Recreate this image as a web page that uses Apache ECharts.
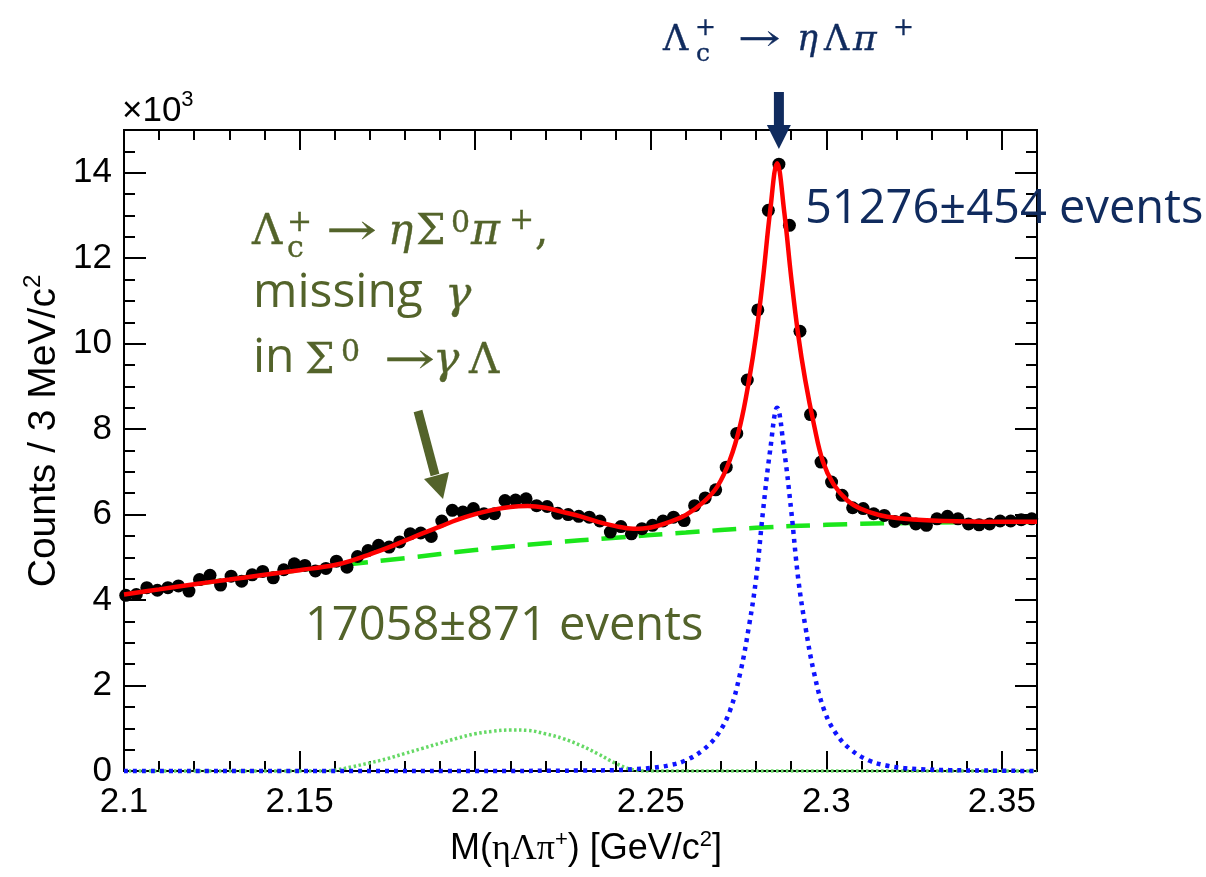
<!DOCTYPE html>
<html><head><meta charset="utf-8">
<script src="https://cdn.jsdelivr.net/npm/echarts@6/dist/echarts.min.js"></script>
<style>html,body{margin:0;padding:0;background:#fff}#c{width:1206px;height:877px}</style>
</head><body><div id="c"></div>
<script>
// ---- data (values in units of 10^3 counts) ----
const binCenters = [2.1005,2.1035,2.1065,2.1095,2.1125,2.1155,2.1185,2.1215,2.1245,2.1275,
  2.1305,2.1335,2.1365,2.1395,2.1425,2.1455,2.1485,2.1515,2.1545,2.1575,
  2.1605,2.1635,2.1665,2.1695,2.1725,2.1755,2.1785,2.1815,2.1845,2.1875,
  2.1905,2.1935,2.1965,2.1995,2.2025,2.2055,2.2085,2.2115,2.2145,2.2175,
  2.2205,2.2235,2.2265,2.2295,2.2325,2.2355,2.2385,2.2415,2.2445,2.2475,
  2.2505,2.2535,2.2565,2.2595,2.2625,2.2655,2.2685,2.2715,2.2745,2.2775,
  2.2805,2.2835,2.2865,2.2895,2.2925,2.2955,2.2985,2.3015,2.3045,2.3075,
  2.3105,2.3135,2.3165,2.3195,2.3225,2.3255,2.3285,2.3315,2.3345,2.3375,
  2.3405,2.3435,2.3465,2.3495,2.3525,2.3555,2.3585];
const counts = [4.11,4.13,4.29,4.23,4.29,4.33,4.21,4.48,4.58,4.35,
  4.56,4.44,4.59,4.67,4.52,4.71,4.85,4.81,4.68,4.74,
  4.91,4.77,5.02,5.16,5.28,5.24,5.36,5.55,5.57,5.49,
  5.85,6.10,6.06,6.14,6.02,6.02,6.33,6.34,6.37,6.21,
  6.19,6.03,6.00,5.96,5.94,5.85,5.59,5.72,5.55,5.67,
  5.75,5.85,5.94,5.86,6.21,6.39,6.58,7.11,7.90,9.15,
  10.79,13.12,14.20,12.77,10.29,8.34,7.23,6.76,6.45,6.16,
  6.14,6.02,5.98,5.84,5.90,5.78,5.75,5.90,5.96,5.90,
  5.78,5.76,5.78,5.85,5.85,5.88,5.90];
const fitTotalX = [2.100,2.110,2.120,2.130,2.140,2.150,2.160,2.165,2.170,2.175,2.180,2.185,2.190,2.195,2.200,2.205,2.210,2.215,2.220,2.225,2.230,2.235,2.240,2.245,2.250,2.255,2.260,2.265,2.269,2.2725,2.2755,2.278,2.280,2.282,2.284,2.286,2.288,2.290,2.292,2.294,2.2965,2.299,2.302,2.306,2.310,2.315,2.320,2.330,2.340,2.350,2.360];
const fitTotalY = [4.13,4.25,4.37,4.48,4.59,4.70,4.82,4.93,5.07,5.22,5.39,5.56,5.72,5.88,6.01,6.11,6.18,6.20,6.16,6.06,5.96,5.83,5.73,5.67,5.70,5.82,5.99,6.29,6.66,7.27,8.10,9.15,10.2,11.55,13.1,14.22,13.1,11.55,10.2,9.15,8.10,7.25,6.72,6.33,6.13,5.99,5.92,5.86,5.84,5.83,5.83];
const bkgX = [2.10,2.12,2.14,2.16,2.18,2.20,2.22,2.24,2.26,2.28,2.30,2.32,2.34,2.36];
const bkgY = [4.13,4.37,4.59,4.80,4.98,5.17,5.33,5.46,5.58,5.69,5.76,5.80,5.82,5.83];
const sigma0X = [2.100,2.150,2.155,2.160,2.165,2.170,2.175,2.180,2.185,2.190,2.195,2.200,2.205,2.210,2.215,2.220,2.225,2.230,2.235,2.240,2.245,2.250,2.300,2.360];
const sigma0Y = [0,0,0,0.02,0.10,0.19,0.29,0.41,0.53,0.65,0.77,0.87,0.93,0.96,0.95,0.87,0.76,0.60,0.40,0.18,0.03,0,0,0];
const signalX = [2.100,2.150,2.200,2.230,2.240,2.245,2.250,2.255,2.260,2.265,2.269,2.2725,2.2755,2.278,2.280,2.282,2.284,2.286,2.288,2.290,2.292,2.294,2.2965,2.2995,2.303,2.307,2.312,2.317,2.322,2.327,2.335,2.345,2.360];
const signalY = [0,0,0,0.01,0.02,0.04,0.07,0.13,0.25,0.50,0.85,1.4,2.3,3.4,4.5,6.1,7.5,8.5,7.5,6.1,4.5,3.4,2.3,1.4,0.85,0.50,0.25,0.13,0.07,0.04,0.02,0.01,0];
const xTickLabels = ['2.1','2.15','2.2','2.25','2.3','2.35'];
const yTickLabels = ['0','2','4','6','8','10','12','14'];
const peakMass = 2.2865;

const zip = (xs, ys) => xs.map((x, i) => [x, ys[i]]);
const navy = '#102b5e', olive = '#53632a';
const K = {'Liberation Serif':0.3375,'DejaVu Serif':0.346,'Open Sans':0.388,'Liberation Sans':0.3465};
function T(x, base, text, size, fam, color, italic, extra) {
  const el = {type:'text', x:x, y: base - K[fam]*size, z:100,
    style:{text:text, font:(italic?'italic ':'')+size+'px "'+fam+'"', fill:color,
      textAlign:'left', textVerticalAlign:'middle', align:'left', verticalAlign:'middle'}};
  if (extra) Object.keys(extra).forEach(k => { if (k === 'style') Object.assign(el.style, extra.style); else el[k] = extra[k]; });
  return el;
}
const ctx = document.createElement('canvas').getContext('2d');
function W(text, size, fam, italic){ ctx.font=(italic?'italic ':'')+size+'px "'+fam+'"'; return ctx.measureText(text).width; }
function seq(pieces, x0, base, color){
  let x = x0; const out=[];
  pieces.forEach(p=>{ out.push(T(x, base + (p[3]||0), p[0], p[1], p[2], color)); x += W(p[0],p[1],p[2]); });
  return {els: out, width: x - x0};
}

const xLab = v => { const s = (+v).toFixed(2).replace(/0$/,''); return xTickLabels.indexOf(s) >= 0 ? s : ''; };
const yLab = v => { const s = String(Math.round(v)); return (Math.abs(v - Math.round(v))<1e-6 && yTickLabels.indexOf(s)>=0) ? s : ''; };

const lineBlack = {color:'#000', width:2};
function xAx(pos, interval, len, labels) {
  return {type:'value', min:2.1, max:2.36, interval:interval, position:pos,
    axisLine:{show:true, onZero:false, lineStyle:lineBlack},
    axisTick:{show:true, inside:true, length:len, lineStyle:lineBlack},
    minorTick:{show:false}, splitLine:{show:false},
    axisLabel:{show:labels, fontSize:35, fontFamily:'Liberation Sans', color:'#000', margin:14, formatter:xLab}};
}
function yAx(pos, interval, len, labels) {
  return {type:'value', min:0, max:15, interval:interval, position:pos,
    axisLine:{show:true, onZero:false, lineStyle:lineBlack},
    axisTick:{show:true, inside:true, length:len, lineStyle:lineBlack},
    minorTick:{show:false}, splitLine:{show:false},
    axisLabel:{show:labels, fontSize:35, fontFamily:'Liberation Sans', color:'#000', margin:12, formatter:yLab}};
}

const chart = echarts.init(document.getElementById('c'));
const option = {
  animation:false, backgroundColor:'#fff',
  grid:{left:124, right:169, top:130, bottom:106, containLabel:false},
  xAxis:[xAx('bottom',0.05,20,true), xAx('bottom',0.01,10,false), xAx('top',0.05,20,false), xAx('top',0.01,10,false)],
  yAxis:[yAx('left',2,22,true), yAx('left',0.5,11,false), yAx('right',2,22,false), yAx('right',0.5,11,false)],
  series:[
    {type:'line', data:zip(bkgX,bkgY), smooth:true, showSymbol:false, z:3,
      lineStyle:{color:'#1be61b', width:4.5, type:[24,13]}},
    {type:'line', data:zip(sigma0X,sigma0Y), smooth:0.4, showSymbol:false, z:3, clip:false,
      lineStyle:{color:'#66d966', width:3.5, type:[2.5,2.5]}},
    {type:'line', data:zip(signalX,signalY), smooth:0.4, showSymbol:false, z:3, clip:false,
      lineStyle:{color:'#0f14ff', width:4.5, type:[4,5]}},
    {type:'scatter', data:zip(binCenters,counts), symbol:'circle', symbolSize:13, z:4,
      itemStyle:{color:'#000', opacity:1}},
    {type:'line', data:zip(fitTotalX,fitTotalY), smooth:0.4, showSymbol:false, z:5,
      lineStyle:{color:'#ff0000', width:4.5}}
  ]
};
chart.setOption(option);

const px = chart.convertToPixel({xAxisIndex:0}, peakMass);
const g = [];
const M = 'DejaVu Serif';
function mt(x, base, text, size, color, italic, extra) {
  const e = Object.assign({}, extra || {});
  e.style = Object.assign({stroke:color, lineWidth:0.35}, (extra && extra.style) || {});
  return T(x, base, text, size, M, color, italic, e);
}
// x-axis title
const xt = seq([['M(',36,'Liberation Sans'],['η',36,'Liberation Serif'],['Λ',36,'Liberation Serif'],['π',36,'Liberation Serif'],['+',22,'Liberation Sans',-14],[') [GeV/c',36,'Liberation Sans'],['2',22,'Liberation Sans',-14],[']',36,'Liberation Sans']], 0, 0, '#000');
g.push({type:'group', x:586 - xt.width/2, y:862, children:xt.els});
// y-axis title (rotated)
const yt = seq([['Counts / 3 MeV/c',39,'Liberation Sans'],['2',24,'Liberation Sans',-16]], 0, 0, '#000');
g.push({type:'group', x:58, y:431, rotation:Math.PI/2, children:yt.els.map(e=>{e.x -= yt.width/2; return e;})});
// x10^3
seq([['×10',35,'Liberation Sans'],['3',22,'Liberation Sans',-15]], 122, 123, '#000').els.forEach(e=>g.push(e));
// title Lambda_c -> eta Lambda pi
g.push(mt(663,53,'Λ',35,navy));
g.push(mt(695,37,'+',25,navy));
g.push(mt(696,63,'c',25,navy));
g.push(mt(738,53,'→',35,navy,false,{scaleX:1.45}));
g.push(mt(797,53,'η',35,navy,true));
g.push(mt(824,53,'Λ',35,navy));
g.push(mt(853,53,'π',36,navy,true));
g.push(mt(893,37,'+',25,navy));
// navy arrow
g.push({type:'rect', shape:{x:px-5, y:92, width:10, height:34}, style:{fill:navy}, z:100});
g.push({type:'polygon', shape:{points:[[px-12,125],[px+12,125],[px,149]]}, style:{fill:navy}, z:100});
// signal yield
g.push(T(805,228,'51276±454 events',47,'Open Sans',navy));
// Sigma0 block
g.push(mt(252,248,'Λ',42,olive));
g.push(mt(287,234,'+',30,olive));
g.push(mt(287,260,'c',30,olive));
g.push(mt(326,248,'→',42,olive,false,{scaleX:1.45}));
g.push(mt(388,248,'η',42,olive,true));
g.push(mt(416,248,'Σ',42,olive));
g.push(mt(451,235,'0',30,olive));
g.push(mt(471,248,'π',44,olive,true));
g.push(mt(509,232,'+',30,olive));
g.push(mt(535,248,',',42,olive));
g.push(T(253,312,'missing',48,'Open Sans',olive));
g.push(mt(445,312,'γ',44,olive,true));
g.push(T(253,377,'in',48,'Open Sans',olive));
g.push(mt(305,377,'Σ',42,olive));
g.push(mt(341,364,'0',30,olive));
g.push(mt(384,377,'→',42,olive,false,{scaleX:1.45}));
g.push(mt(433,377,'γ',44,olive,true));
g.push(mt(469,377,'Λ',42,olive));
// olive arrow
g.push({type:'line', shape:{x1:418, y1:411, x2:435, y2:475}, style:{stroke:olive, lineWidth:9}, z:100});
g.push({type:'polygon', shape:{points:[[424,479],[449,472],[443,499]]}, style:{fill:olive}, z:100});
// Sigma0 yield
g.push(T(305,645,'17058±871 events',47,'Open Sans',olive));
chart.setOption({graphic:{elements:g}});
</script></body></html>
